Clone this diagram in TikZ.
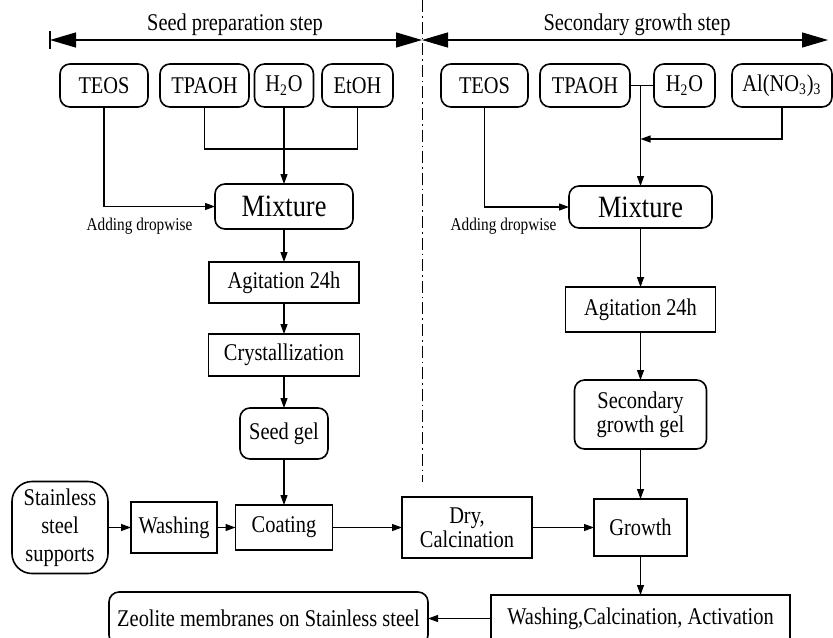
\documentclass[tikz,border=0pt]{standalone}
\usepackage{fontspec}
\setmainfont{Liberation Serif}[FakeStretch=0.85]
\usetikzlibrary{arrows.meta}

\begin{document}
\begin{tikzpicture}[x=0.5pt, y=-0.5pt,
    every node/.style={font=\fontsize{12}{12}\selectfont, inner sep=0pt, outer sep=0pt},
    box/.style={draw, line width=0.8pt, align=center},
    rbox/.style={box, rounded corners=5pt},
    link/.style={line width=0.6pt, -{Triangle[length=5pt,width=3.5pt]}},
    span/.style={line width=0.6pt, {Triangle[length=13pt,width=7.5pt]}-{Triangle[length=13pt,width=7.5pt]}},
    divider/.style={line width=0.5pt, dash pattern=on 6pt off 2pt on 0.8pt off 2pt}]
    \useasboundingbox (0,0) rectangle (833,637);

    % headings
    \node (seedlbl) at (235,25) {Seed preparation step};
    \node (seclbl) at (637,25) {Secondary growth step};
    \coordinate (sl) at (50,40);
    \coordinate (sm) at (422,40);
    \coordinate (sr) at (828,40);
    \draw[span] (sl) -- (sm);
    \draw[span] (sm) -- (sr);
    \draw[line width=0.6pt] (sl) ++(0,-9) -- ++(0,18);
    \coordinate (divtop) at (422,0);
    \coordinate (divbot) at (422,482);
    \draw[divider] (divtop) -- (divbot);

    % seed preparation
    \node[rbox, minimum width=44pt, minimum height=21.5pt] (teosA) at (104,85.5) {TEOS};
    \node[rbox, minimum width=44.5pt, minimum height=21.5pt] (tpaohA) at (204.5,85.5) {TPAOH};
    \node[rbox, minimum width=29.5pt, minimum height=21.5pt] (hA) at (284,85.5) {H\textsubscript{2}O};
    \node[rbox, minimum width=35.5pt, minimum height=21.5pt] (etohA) at (357.5,85.5) {EtOH};
    \node[rbox, minimum width=69pt, minimum height=22.5pt, font=\fontsize{15.5}{16}\selectfont] (mixA) at (284,206.5) {Mixture};
    \node[font=\fontsize{9}{10}\selectfont] (dropA) at (139.5,226) {Adding dropwise};
    \node[box, minimum width=75pt, minimum height=20.5pt] (agiA) at (284,282.5) {Agitation 24h};
    \node[box, minimum width=75.5pt, minimum height=21pt] (cryA) at (284,355) {Crystallization};
    \node[rbox, minimum width=44pt, minimum height=25.5pt] (gelA) at (284,433.5) {Seed gel};

    \coordinate (joinA) at (284,149);
    \draw[link] (teosA.south) |- (mixA.west);
    \draw[line width=0.6pt] (tpaohA.south) |- (joinA) -| (etohA.south);
    \draw[link] (hA.south) -- (mixA.north);
    \draw[link] (mixA.south) -- (agiA.north);
    \draw[link] (agiA.south) -- (cryA.north);
    \draw[link] (cryA.south) -- (gelA.north);

    % secondary growth
    \node[rbox, minimum width=43.5pt, minimum height=21.5pt] (teosB) at (484.5,85.5) {TEOS};
    \node[rbox, minimum width=45pt, minimum height=21.5pt] (tpaohB) at (585,85.5) {TPAOH};
    \node[rbox, minimum width=30.5pt, minimum height=21.5pt] (hB) at (684.5,85.5) {H\textsubscript{2}O};
    \node[rbox, minimum width=50pt, minimum height=21.5pt] (alB) at (782,85.5) {Al(NO\textsubscript{3})\textsubscript{3}};
    \node[rbox, minimum width=71.5pt, minimum height=21pt, font=\fontsize{15.5}{16}\selectfont] (mixB) at (640.5,207) {Mixture};
    \node[font=\fontsize{9}{10}\selectfont] (dropB) at (503.5,226) {Adding dropwise};
    \node[box, minimum width=75pt, minimum height=22.5pt] (agiB) at (640.5,309.5) {Agitation 24h};
    \node[rbox, minimum width=66pt, minimum height=34.5pt] (gelB) at (640.5,414.5) {Secondary\\growth gel};

    \coordinate (teeB) at (640.5,85.5);
    \coordinate (joinB) at (640.5,139);
    \draw[line width=0.6pt] (tpaohB.east) -- (hB.west);
    \draw[link] (teeB) -- (mixB.north);
    \draw[link] (alB.south) |- (joinB);
    \draw[link] (teosB.south) |- (mixB.west);
    \draw[link] (mixB.south) -- (agiB.north);
    \draw[link] (agiB.south) -- (gelB.north);

    % coating and growth
    \node[box, rounded corners=10pt, minimum width=48pt, minimum height=46pt, font=\fontsize{12}{14}\selectfont] (supp) at (60,527.5) {Stainless\\steel\\supports};
    \node[box, minimum width=43pt, minimum height=25.5pt] (wash) at (174,527.5) {Washing};
    \node[box, minimum width=48.5pt, minimum height=22.5pt] (coat) at (284,527.5) {Coating};
    \node[box, minimum width=65pt, minimum height=30.5pt] (dry) at (467,527.5) {Dry,\\Calcination};
    \node[box, minimum width=46.5pt, minimum height=28.5pt] (grow) at (640.5,527.5) {Growth};
    \node[box, minimum width=149.5pt, minimum height=23.5pt] (fin) at (640.5,618.5) {Washing,Calcination, Activation};
    \node[rbox, minimum width=159.5pt, minimum height=26.5pt] (zeo) at (268.5,618.5) {Zeolite membranes on Stainless steel};

    \draw[link] (gelA.south) -- (coat.north);
    \draw[link] (gelB.south) -- (grow.north);
    \draw[link] (supp.east) -- (wash.west);
    \draw[link] (wash.east) -- (coat.west);
    \draw[link] (coat.east) -- (dry.west);
    \draw[link] (dry.east) -- (grow.west);
    \draw[link] (grow.south) -- (fin.north);
    \draw[link] (fin.west) -- (zeo.east);
\end{tikzpicture}
\end{document}
